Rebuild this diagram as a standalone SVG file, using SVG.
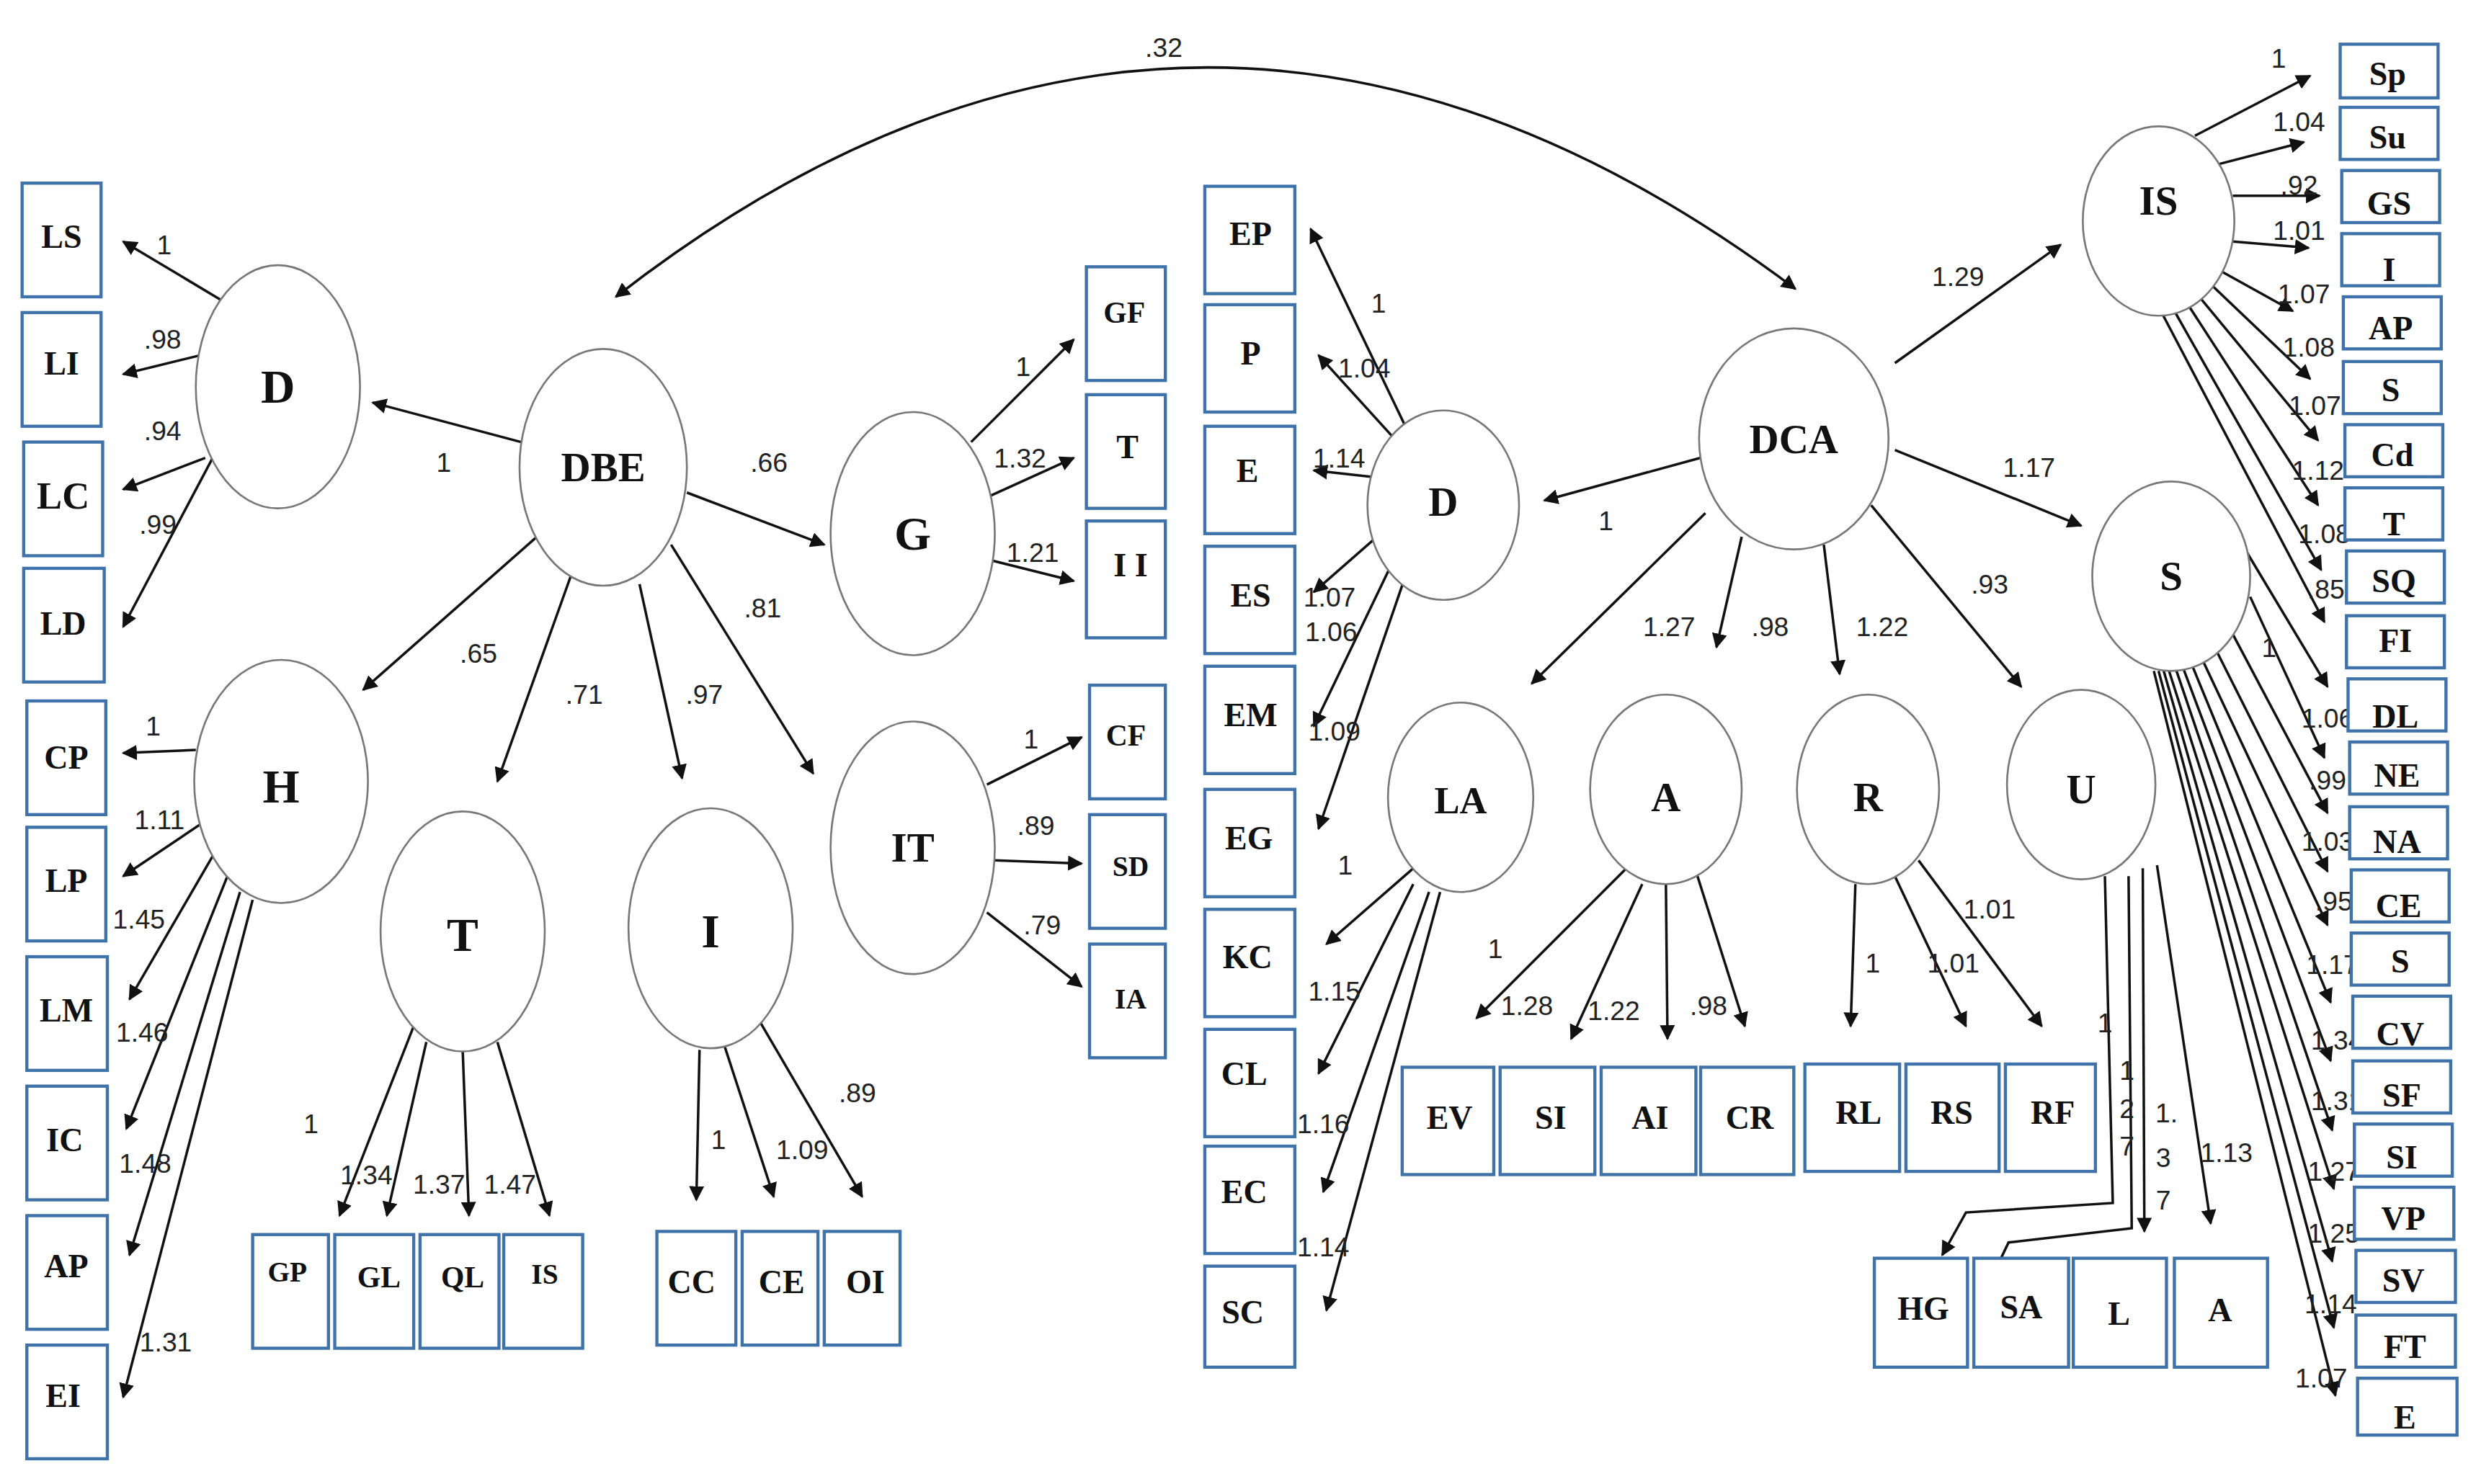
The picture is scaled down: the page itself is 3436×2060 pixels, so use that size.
<svg xmlns="http://www.w3.org/2000/svg" width="3436" height="2060" viewBox="0 0 3436 2060">
<style>
.b{fill:#fff;stroke:#3f72a8;stroke-width:2}
.e{fill:#fff;stroke:#777;stroke-width:1.2}
.bt{font-family:"Liberation Serif",serif;font-weight:bold;font-size:21px;text-anchor:middle;dominant-baseline:central;fill:#111}
.et{font-family:"Liberation Serif",serif;font-weight:bold;font-size:30px;text-anchor:middle;dominant-baseline:central;fill:#111}
.n{font-family:"Liberation Sans",sans-serif;font-size:17px;fill:#222;text-anchor:middle}
.a{fill:none;stroke:#111;stroke-width:1.6;marker-end:url(#ah)}
</style>
<defs>
<marker id="ah" viewBox="0 0 10 10" refX="9" refY="5" markerWidth="6" markerHeight="6" orient="auto"><path d="M0,0 L10,5 L0,10 z" fill="#111"/></marker>
<marker id="as" viewBox="0 0 10 10" refX="1" refY="5" markerWidth="6" markerHeight="6" orient="auto"><path d="M10,0 L0,5 L10,10 z" fill="#111"/></marker>
</defs>
<rect width="3436" height="2060" fill="#fff"/>
<g transform="scale(2.1913,2.1915)">
<g id="connectors">
<path d="M390,188 Q760,-100 1137,183" fill="none" stroke="#111" stroke-width="1.6" marker-start="url(#as)" marker-end="url(#ah)"/>
<path class="a" d="M140,190 L78,153"/><path class="a" d="M127,225 L78,237"/><path class="a" d="M130,290 L78,310"/><path class="a" d="M140,280 L78,397"/>
<path class="a" d="M330,280 L236,255"/><path class="a" d="M340,340 L230,437"/><path class="a" d="M365,355 L315,495"/><path class="a" d="M405,370 L432,493"/><path class="a" d="M425,345 L515,490"/><path class="a" d="M435,312 L522,345"/>
<path class="a" d="M124,475 L78,477"/><path class="a" d="M130,520 L78,555"/><path class="a" d="M136,540 L82,633"/><path class="a" d="M144,555 L80,715"/><path class="a" d="M152,565 L82,795"/><path class="a" d="M160,570 L78,885"/>
<path class="a" d="M262,650 L215,770"/><path class="a" d="M270,660 L245,770"/><path class="a" d="M293,665 L297,770"/><path class="a" d="M315,660 L348,770"/>
<path class="a" d="M443,665 L441,760"/><path class="a" d="M458,660 L490,758"/><path class="a" d="M480,645 L546,758"/>
<path class="a" d="M615,280 L680,215"/><path class="a" d="M625,315 L680,290"/><path class="a" d="M628,355 L680,368"/>
<path class="a" d="M625,497 L685,467"/><path class="a" d="M630,545 L685,547"/><path class="a" d="M625,578 L685,625"/>
<path class="a" d="M890,270 L830,145"/><path class="a" d="M885,280 L835,225"/><path class="a" d="M868,302 L832,298"/><path class="a" d="M872,340 L832,375"/><path class="a" d="M880,360 L832,460"/><path class="a" d="M890,365 L835,525"/>
<path class="a" d="M1077,290 L978,317"/><path class="a" d="M1200,230 L1305,155"/><path class="a" d="M1200,285 L1318,333"/>
<path class="a" d="M1080,325 L970,433"/><path class="a" d="M1103,340 L1087,410"/><path class="a" d="M1155,345 L1165,427"/><path class="a" d="M1185,320 L1280,435"/>
<path class="a" d="M895,550 L840,598"/><path class="a" d="M895,560 L835,680"/><path class="a" d="M905,565 L838,755"/><path class="a" d="M912,565 L840,830"/>
<path class="a" d="M1030,550 L935,645"/><path class="a" d="M1040,560 L995,658"/><path class="a" d="M1055,560 L1056,658"/><path class="a" d="M1075,555 L1105,650"/>
<path class="a" d="M1175,560 L1172,650"/><path class="a" d="M1200,555 L1245,650"/><path class="a" d="M1215,545 L1293,650"/>
<path class="a" d="M1333,555 L1338,762 L1245,768 L1230,795"/><path class="a" d="M1348,555 L1350,778 L1272,787 L1260,812"/><path class="a" d="M1357,550 L1358,780"/><path class="a" d="M1366,548 L1400,775"/>
<path class="a" d="M1390,86 L1463,48"/><path class="a" d="M1405,104 L1459,90"/><path class="a" d="M1414,124 L1469,124"/><path class="a" d="M1414,153 L1462,157"/><path class="a" d="M1407,172 L1452,197"/><path class="a" d="M1400,180 L1463,240"/><path class="a" d="M1392,187 L1468,279"/><path class="a" d="M1385,192 L1468,320"/><path class="a" d="M1377,197 L1470,361"/><path class="a" d="M1370,200 L1472,394"/>
<path class="a" d="M1423,350 L1474,435"/><path class="a" d="M1425,378 L1472,480"/><path class="a" d="M1411,396 L1474,515"/><path class="a" d="M1400,405 L1474,552"/><path class="a" d="M1392,412 L1474,586"/><path class="a" d="M1386,416 L1476,635"/><path class="a" d="M1381,419 L1476,672"/><path class="a" d="M1377,421 L1477,716"/><path class="a" d="M1373,423 L1478,753"/><path class="a" d="M1370,424 L1477,799"/><path class="a" d="M1367,425 L1478,841"/><path class="a" d="M1364,425 L1479,884"/>
</g>
<g id="labels">
<text class="n" x="737" y="36">.32</text>
<text class="n" x="104" y="161">1</text><text class="n" x="103" y="221">.98</text><text class="n" x="103" y="279">.94</text><text class="n" x="100" y="338">.99</text>
<text class="n" x="281" y="299">1</text><text class="n" x="303" y="420">.65</text><text class="n" x="370" y="446">.71</text><text class="n" x="446" y="446">.97</text><text class="n" x="483" y="391">.81</text><text class="n" x="487" y="299">.66</text>
<text class="n" x="97" y="466">1</text><text class="n" x="101" y="525">1.11</text><text class="n" x="88" y="588">1.45</text><text class="n" x="90" y="660">1.46</text><text class="n" x="92" y="743">1.48</text><text class="n" x="105" y="856">1.31</text>
<text class="n" x="197" y="718">1</text><text class="n" x="232" y="750">1.34</text><text class="n" x="278" y="756">1.37</text><text class="n" x="323" y="756">1.47</text>
<text class="n" x="455" y="728">1</text><text class="n" x="508" y="734">1.09</text><text class="n" x="543" y="698">.89</text>
<text class="n" x="648" y="238">1</text><text class="n" x="646" y="296">1.32</text><text class="n" x="654" y="356">1.21</text>
<text class="n" x="653" y="474">1</text><text class="n" x="656" y="529">.89</text><text class="n" x="660" y="592">.79</text>
<text class="n" x="873" y="198">1</text><text class="n" x="864" y="239">1.04</text><text class="n" x="848" y="296">1.14</text><text class="n" x="842" y="384">1.07</text><text class="n" x="843" y="406">1.06</text><text class="n" x="845" y="469">1.09</text>
<text class="n" x="1017" y="336">1</text><text class="n" x="1240" y="181">1.29</text><text class="n" x="1285" y="302">1.17</text>
<text class="n" x="1057" y="403">1.27</text><text class="n" x="1121" y="403">.98</text><text class="n" x="1192" y="403">1.22</text><text class="n" x="1260" y="376">.93</text>
<text class="n" x="852" y="554">1</text><text class="n" x="845" y="634">1.15</text><text class="n" x="838" y="718">1.16</text><text class="n" x="838" y="796">1.14</text>
<text class="n" x="947" y="607">1</text><text class="n" x="967" y="643">1.28</text><text class="n" x="1022" y="646">1.22</text><text class="n" x="1082" y="643">.98</text>
<text class="n" x="1186" y="616">1</text><text class="n" x="1237" y="616">1.01</text><text class="n" x="1260" y="582">1.01</text>
<text class="n" x="1333" y="654">1</text><text class="n" x="1347" y="684">1</text><text class="n" x="1347" y="708">2</text><text class="n" x="1347" y="732">7</text>
<text class="n" x="1372" y="711">1.</text><text class="n" x="1370" y="739">3</text><text class="n" x="1370" y="766">7</text><text class="n" x="1410" y="736">1.13</text>
<text class="n" x="1443" y="43">1</text><text class="n" x="1456" y="83">1.04</text><text class="n" x="1456" y="123">.92</text><text class="n" x="1456" y="152">1.01</text><text class="n" x="1459" y="192">1.07</text><text class="n" x="1462" y="226">1.08</text><text class="n" x="1466" y="263">1.07</text><text class="n" x="1468" y="304">1.12</text><text class="n" x="1472" y="344">1.08</text><text class="n" x="1473" y="379">.85</text>
<text class="n" x="1437" y="416">1</text><text class="n" x="1474" y="461">1.06</text><text class="n" x="1474" y="500">.99</text><text class="n" x="1474" y="539">1.03</text><text class="n" x="1478" y="577">.95</text><text class="n" x="1477" y="617">1.17</text><text class="n" x="1480" y="665">1.34</text><text class="n" x="1480" y="703">1.31</text><text class="n" x="1478" y="748">1.27</text><text class="n" x="1478" y="787">1.25</text><text class="n" x="1476" y="832">1.14</text><text class="n" x="1470" y="879">1.07</text>
</g>
<g id="latent">
<g id="n-D"><ellipse class="e" cx="176" cy="245" rx="52" ry="77"/><text class="et" x="176" y="245">D</text></g>
<g id="n-DBE"><ellipse class="e" cx="382" cy="296" rx="53" ry="75"/><text class="et" x="382" y="296" style="font-size:26px">DBE</text></g>
<g id="n-H"><ellipse class="e" cx="178" cy="495" rx="55" ry="77"/><text class="et" x="178" y="498">H</text></g>
<g id="n-T"><ellipse class="e" cx="293" cy="590" rx="52" ry="76"/><text class="et" x="293" y="592">T</text></g>
<g id="n-I"><ellipse class="e" cx="450" cy="588" rx="52" ry="76"/><text class="et" x="450" y="590">I</text></g>
<g id="n-G"><ellipse class="e" cx="578" cy="338" rx="52" ry="77"/><text class="et" x="578" y="338">G</text></g>
<g id="n-IT"><ellipse class="e" cx="578" cy="537" rx="52" ry="80"/><text class="et" x="578" y="537" style="font-size:26px">IT</text></g>
<g id="n-D2"><ellipse class="e" cx="914" cy="320" rx="48" ry="60"/><text class="et" x="914" y="318" style="font-size:26px">D</text></g>
<g id="n-DCA"><ellipse class="e" cx="1136" cy="278" rx="60" ry="70"/><text class="et" x="1136" y="278" style="font-size:26px">DCA</text></g>
<g id="n-LA"><ellipse class="e" cx="925" cy="505" rx="46" ry="60"/><text class="et" x="925" y="507" style="font-size:24px">LA</text></g>
<g id="n-A"><ellipse class="e" cx="1055" cy="500" rx="48" ry="60"/><text class="et" x="1055" y="505" style="font-size:26px">A</text></g>
<g id="n-R"><ellipse class="e" cx="1183" cy="500" rx="45" ry="60"/><text class="et" x="1183" y="505" style="font-size:26px">R</text></g>
<g id="n-U"><ellipse class="e" cx="1318" cy="497" rx="47" ry="60"/><text class="et" x="1318" y="500" style="font-size:26px">U</text></g>
<g id="n-IS"><ellipse class="e" cx="1367" cy="140" rx="48" ry="60"/><text class="et" x="1367" y="127" style="font-size:26px">IS</text></g>
<g id="n-S"><ellipse class="e" cx="1375" cy="365" rx="50" ry="60"/><text class="et" x="1375" y="365" style="font-size:26px">S</text></g>
</g>
<g id="observed">
<g id="o-LS"><rect class="b" x="14" y="116" width="50" height="72"/><text class="bt" x="39" y="150">LS</text></g>
<g id="o-LI"><rect class="b" x="14" y="198" width="50" height="72"/><text class="bt" x="39" y="230">LI</text></g>
<g id="o-LC"><rect class="b" x="15" y="280" width="50" height="72"/><text class="bt" x="40" y="314" style="font-size:24px">LC</text></g>
<g id="o-LD"><rect class="b" x="15" y="360" width="51" height="72"/><text class="bt" x="40" y="395">LD</text></g>
<g id="o-CP"><rect class="b" x="17" y="444" width="50" height="72"/><text class="bt" x="42" y="480">CP</text></g>
<g id="o-LP"><rect class="b" x="17" y="524" width="50" height="72"/><text class="bt" x="42" y="558">LP</text></g>
<g id="o-LM"><rect class="b" x="17" y="606" width="51" height="72"/><text class="bt" x="42" y="640">LM</text></g>
<g id="o-IC"><rect class="b" x="17" y="688" width="51" height="72"/><text class="bt" x="41" y="722">IC</text></g>
<g id="o-AP"><rect class="b" x="17" y="770" width="51" height="72"/><text class="bt" x="42" y="802">AP</text></g>
<g id="o-EI"><rect class="b" x="17" y="852" width="51" height="72"/><text class="bt" x="40" y="884">EI</text></g>
<g id="o-GP"><rect class="b" x="160" y="782" width="48" height="72"/><text class="bt" x="182" y="806" style="font-size:18px">GP</text></g>
<g id="o-GL"><rect class="b" x="212" y="782" width="50" height="72"/><text class="bt" x="240" y="809" style="font-size:19px">GL</text></g>
<g id="o-QL"><rect class="b" x="266" y="782" width="50" height="72"/><text class="bt" x="293" y="809" style="font-size:19px">QL</text></g>
<g id="o-IS2"><rect class="b" x="319" y="782" width="50" height="72"/><text class="bt" x="345" y="807" style="font-size:18px">IS</text></g>
<g id="o-CC"><rect class="b" x="416" y="780" width="50" height="72"/><text class="bt" x="438" y="812">CC</text></g>
<g id="o-CE"><rect class="b" x="470" y="780" width="48" height="72"/><text class="bt" x="495" y="812">CE</text></g>
<g id="o-OI"><rect class="b" x="522" y="780" width="48" height="72"/><text class="bt" x="548" y="812">OI</text></g>
<g id="o-GF"><rect class="b" x="688" y="169" width="50" height="72"/><text class="bt" x="712" y="198" style="font-size:19px">GF</text></g>
<g id="o-T"><rect class="b" x="688" y="250" width="50" height="72"/><text class="bt" x="714" y="283">T</text></g>
<g id="o-II"><rect class="b" x="688" y="330" width="50" height="74"/><text class="bt" x="716" y="358">I I</text></g>
<g id="o-CF"><rect class="b" x="690" y="434" width="48" height="72"/><text class="bt" x="713" y="466" style="font-size:19px">CF</text></g>
<g id="o-SD"><rect class="b" x="690" y="516" width="48" height="72"/><text class="bt" x="716" y="549" style="font-size:18px">SD</text></g>
<g id="o-IA"><rect class="b" x="690" y="598" width="48" height="72"/><text class="bt" x="716" y="633" style="font-size:18px">IA</text></g>
<g id="o-EP"><rect class="b" x="763" y="118" width="57" height="68"/><text class="bt" x="792" y="148">EP</text></g>
<g id="o-P"><rect class="b" x="763" y="193" width="57" height="68"/><text class="bt" x="792" y="224">P</text></g>
<g id="o-E"><rect class="b" x="763" y="270" width="57" height="68"/><text class="bt" x="790" y="298">E</text></g>
<g id="o-ES"><rect class="b" x="763" y="346" width="57" height="68"/><text class="bt" x="792" y="377">ES</text></g>
<g id="o-EM"><rect class="b" x="763" y="422" width="57" height="68"/><text class="bt" x="792" y="453">EM</text></g>
<g id="o-EG"><rect class="b" x="763" y="500" width="57" height="68"/><text class="bt" x="791" y="531">EG</text></g>
<g id="o-KC"><rect class="b" x="763" y="576" width="57" height="68"/><text class="bt" x="790" y="606">KC</text></g>
<g id="o-CL"><rect class="b" x="763" y="652" width="57" height="68"/><text class="bt" x="788" y="680">CL</text></g>
<g id="o-EC"><rect class="b" x="763" y="726" width="57" height="68"/><text class="bt" x="788" y="755">EC</text></g>
<g id="o-SC"><rect class="b" x="763" y="802" width="57" height="64"/><text class="bt" x="787" y="831">SC</text></g>
<g id="o-EV"><rect class="b" x="888" y="676" width="58" height="68"/><text class="bt" x="918" y="708">EV</text></g>
<g id="o-SI"><rect class="b" x="950" y="676" width="60" height="68"/><text class="bt" x="982" y="708">SI</text></g>
<g id="o-AI"><rect class="b" x="1014" y="676" width="60" height="68"/><text class="bt" x="1045" y="708">AI</text></g>
<g id="o-CR"><rect class="b" x="1077" y="676" width="59" height="68"/><text class="bt" x="1108" y="708">CR</text></g>
<g id="o-RL"><rect class="b" x="1143" y="674" width="60" height="68"/><text class="bt" x="1177" y="705">RL</text></g>
<g id="o-RS"><rect class="b" x="1207" y="674" width="59" height="68"/><text class="bt" x="1236" y="705">RS</text></g>
<g id="o-RF"><rect class="b" x="1270" y="674" width="57" height="68"/><text class="bt" x="1300" y="705">RF</text></g>
<g id="o-HG"><rect class="b" x="1187" y="797" width="59" height="69"/><text class="bt" x="1218" y="829">HG</text></g>
<g id="o-SA"><rect class="b" x="1250" y="797" width="60" height="69"/><text class="bt" x="1280" y="828">SA</text></g>
<g id="o-L"><rect class="b" x="1313" y="797" width="59" height="69"/><text class="bt" x="1342" y="832">L</text></g>
<g id="o-A"><rect class="b" x="1377" y="797" width="59" height="69"/><text class="bt" x="1406" y="830">A</text></g>
<g id="o-Sp"><rect class="b" x="1482" y="28" width="62" height="34"/><text class="bt" x="1512" y="47">Sp</text></g>
<g id="o-Su"><rect class="b" x="1482" y="68" width="62" height="33"/><text class="bt" x="1512" y="87">Su</text></g>
<g id="o-GS"><rect class="b" x="1483" y="108" width="62" height="33"/><text class="bt" x="1513" y="129">GS</text></g>
<g id="o-I"><rect class="b" x="1483" y="148" width="62" height="33"/><text class="bt" x="1513" y="171">I</text></g>
<g id="o-AP2"><rect class="b" x="1484" y="188" width="62" height="33"/><text class="bt" x="1514" y="208">AP</text></g>
<g id="o-S1"><rect class="b" x="1484" y="229" width="62" height="33"/><text class="bt" x="1514" y="247">S</text></g>
<g id="o-Cd"><rect class="b" x="1485" y="269" width="62" height="33"/><text class="bt" x="1515" y="288">Cd</text></g>
<g id="o-T2"><rect class="b" x="1485" y="309" width="62" height="33"/><text class="bt" x="1516" y="332">T</text></g>
<g id="o-SQ"><rect class="b" x="1486" y="349" width="62" height="33"/><text class="bt" x="1516" y="368">SQ</text></g>
<g id="o-FI"><rect class="b" x="1486" y="390" width="62" height="33"/><text class="bt" x="1517" y="406">FI</text></g>
<g id="o-DL"><rect class="b" x="1487" y="430" width="62" height="33"/><text class="bt" x="1517" y="454">DL</text></g>
<g id="o-NE"><rect class="b" x="1488" y="470" width="62" height="33"/><text class="bt" x="1518" y="491">NE</text></g>
<g id="o-NA"><rect class="b" x="1488" y="511" width="62" height="33"/><text class="bt" x="1518" y="533">NA</text></g>
<g id="o-CE2"><rect class="b" x="1489" y="551" width="62" height="33"/><text class="bt" x="1519" y="574">CE</text></g>
<g id="o-S2"><rect class="b" x="1489" y="591" width="62" height="33"/><text class="bt" x="1520" y="609">S</text></g>
<g id="o-CV"><rect class="b" x="1490" y="631" width="62" height="33"/><text class="bt" x="1520" y="655">CV</text></g>
<g id="o-SF"><rect class="b" x="1490" y="672" width="62" height="33"/><text class="bt" x="1521" y="694">SF</text></g>
<g id="o-SI2"><rect class="b" x="1491" y="712" width="62" height="33"/><text class="bt" x="1521" y="733">SI</text></g>
<g id="o-VP"><rect class="b" x="1491" y="752" width="63" height="33"/><text class="bt" x="1522" y="772">VP</text></g>
<g id="o-SV"><rect class="b" x="1492" y="792" width="63" height="33"/><text class="bt" x="1522" y="811">SV</text></g>
<g id="o-FT"><rect class="b" x="1492" y="833" width="63" height="33"/><text class="bt" x="1523" y="853">FT</text></g>
<g id="o-E2"><rect class="b" x="1493" y="873" width="63" height="36"/><text class="bt" x="1523" y="898">E</text></g>
</g>
</g>
</svg>
